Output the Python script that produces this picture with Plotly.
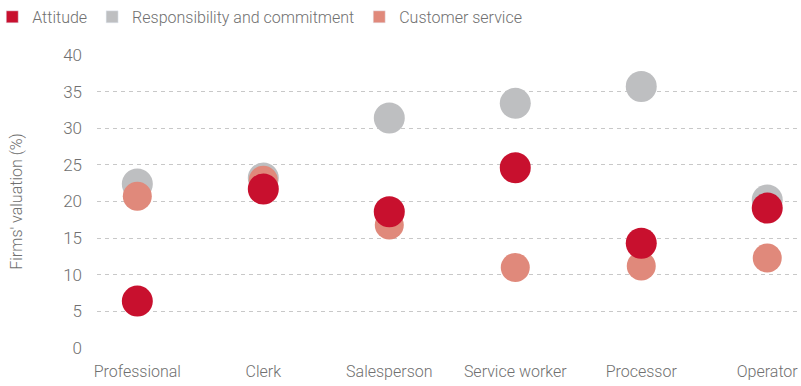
import plotly.graph_objects as go

occupations = ["Professional", "Clerk", "Salesperson", "Service worker", "Processor", "Operator"]
attitude = [6.4, 21.7, 18.6, 24.6, 14.3, 19.1]
responsibility = [22.4, 23.2, 31.4, 33.4, 35.7, 20.2]
customer_service = [20.7, 22.9, 16.8, 11.0, 11.2, 12.3]

red = "#C8102E"
grey = "#BEBFC1"
salmon = "#E0897B"
font = "Roboto, sans-serif"

fig = go.Figure()
# dots (grey first, red on top)
fig.add_trace(go.Scatter(x=occupations, y=responsibility, mode="markers", showlegend=False,
                         marker=dict(color=grey, size=31), cliponaxis=False))
fig.add_trace(go.Scatter(x=occupations, y=customer_service, mode="markers", showlegend=False,
                         marker=dict(color=salmon, size=29), cliponaxis=False))
fig.add_trace(go.Scatter(x=occupations, y=attitude, mode="markers", showlegend=False,
                         marker=dict(color=red, size=31), cliponaxis=False))
# legend swatches
for name, col in [("Attitude", red), ("Responsibility and commitment", grey), ("Customer service", salmon)]:
    fig.add_trace(go.Bar(x=[None], y=[None], name=name, marker_color=col))

fig.update_layout(
    width=801, height=386,
    margin=dict(l=97, r=1, t=55, b=38, autoexpand=False),
    plot_bgcolor="white", paper_bgcolor="white",
    font=dict(family=font, size=16, color="#707070", weight=300),
    legend=dict(orientation="h", x=-0.149, xanchor="left", y=1.13, yanchor="middle",
                font=dict(size=16, color="#707070", weight=300), itemwidth=30,
                tracegroupgap=0),
    xaxis=dict(range=[-0.32, 5.26], showgrid=False, showline=False, ticks="", automargin=False,
               ticklabelstandoff=12, tickfont=dict(size=16, weight=300)),
    yaxis=dict(range=[0, 40], dtick=5, showgrid=True, gridcolor="#c8c8c8", griddash="4px,4px",
               zeroline=False, showline=False, ticks="", ticklabelstandoff=14, automargin=False,
               title=dict(text="Firms' valuation (%)", font=dict(size=16, weight=300), standoff=36),
               tickfont=dict(size=17, weight=300)),
)
# page has a default body margin; drop it so the figure fills the window
fig.write_html("out.html", config={"displayModeBar": False},
               post_script="document.body.style.margin='0';")
